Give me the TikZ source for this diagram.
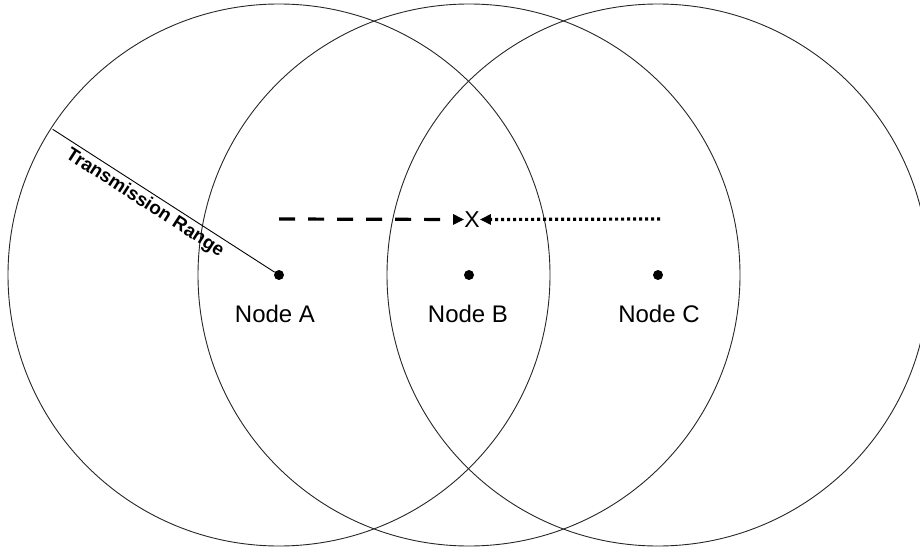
\documentclass[tikz,border=0pt]{standalone}
\usepackage{fontspec}
\setmainfont{Liberation Sans}
\usetikzlibrary{arrows.meta}
\begin{document}
\begin{tikzpicture}[x=1pt,y=-1pt,
  rangecircle/.style={draw=black!85, line width=0.9pt},
  nodedot/.style={circle, fill=black, inner sep=0pt, minimum size=10pt},
  nodelbl/.style={font=\fontsize{24}{28}\selectfont, inner sep=0pt, anchor=base},
  xlbl/.style={font=\fontsize{23}{26}\selectfont, inner sep=0pt},
  rangelbl/.style={font=\fontsize{18.8}{22}\selectfont\bfseries, inner sep=3pt},
  arrtip/.style={-{Triangle[length=11pt,width=10pt]}},
  sentline/.style={arrtip, line width=3.2pt, dash pattern=on 16pt off 13pt},
  blockedline/.style={arrtip, line width=3.2pt, dash pattern=on 3pt off 3pt}
]
\useasboundingbox (0,0) rectangle (920,548);
\clip (0,0) rectangle (920,548);
% nodes
\node[nodedot] (A) at (279,275) {};
\node[nodedot] (B) at (469,275) {};
\node[nodedot] (C) at (658,275) {};
% transmission ranges
\draw[rangecircle] (A.center) circle[radius=271];
\draw[rangecircle] (B.center) circle[radius=271];
\draw[rangecircle] (C.center) circle[radius=271];
% labels
\node[nodelbl] (la) at (275,322) {Node A};
\node[nodelbl] (lb) at (468,322) {Node B};
\node[nodelbl] (lc) at (659,322) {Node C};
% collision
\node[xlbl] (X) at (472,219.5) {X};
\coordinate (sa) at (279,219);
\coordinate (sc) at (660,219);
\draw[sentline] (sa) -- (X.west);
\draw[blockedline] (sc) -- (X.east);
% radius
\coordinate (edge) at (52.7,129.3);
\draw[line width=0.9pt] (edge) -- (A)
  node[rangelbl, pos=0.445, sloped, below] (tr) {Transmission Range};
\end{tikzpicture}
\end{document}
